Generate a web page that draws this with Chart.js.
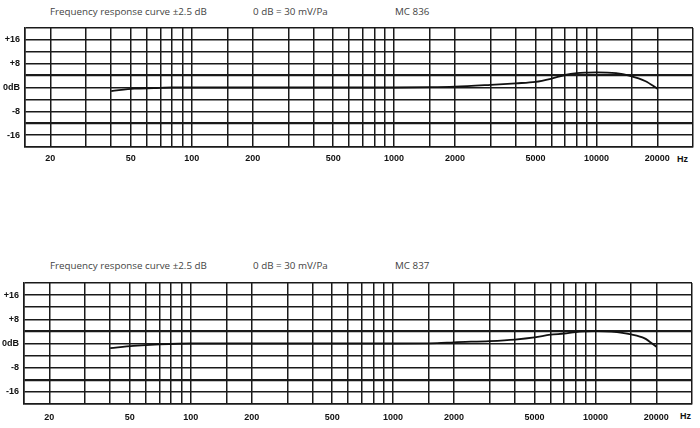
<!DOCTYPE html>
<html>
<head>
<meta charset="utf-8">
<script src="https://cdn.jsdelivr.net/npm/chart.js@4.4.1/dist/chart.umd.min.js"></script>
<style>
  body { margin: 0; background: #fff; }
  #wrap { position: relative; width: 700px; height: 428px; overflow: hidden; }
  .box { position: absolute; left: 0; width: 700px; }
  .txt { position: absolute; font: 9.8px "Open Sans", sans-serif; color: #444; white-space: nowrap; }
  .hz { position: absolute; font: bold 9px "Liberation Sans", sans-serif; color: #111; }
</style>
</head>
<body>
<div id="wrap">
  <span class="txt" style="left:50px;top:5px">Frequency response curve ±2.5 dB</span>
  <span class="txt" style="left:253px;top:5px">0 dB = 30 mV/Pa</span>
  <span class="txt" style="left:395px;top:5px">MC 836</span>
  <span class="hz" style="left:677px;top:154px">Hz</span>
  <div class="box" style="top:0;height:175px"><canvas id="c1" width="700" height="175"></canvas></div>

  <span class="txt" style="left:50px;top:259px">Frequency response curve ±2.5 dB</span>
  <span class="txt" style="left:253px;top:259px">0 dB = 30 mV/Pa</span>
  <span class="txt" style="left:395px;top:259px">MC 837</span>
  <span class="hz" style="left:680px;top:411px">Hz</span>
  <div class="box" style="top:250px;height:178px"><canvas id="c2" width="700" height="178"></canvas></div>
</div>
<script>
// Gitter und Beschriftungen
var gridFreqs = [15, 20, 30, 40, 50, 60, 70, 80, 90, 100, 150, 200, 300, 400, 500, 600, 700, 800, 900,
                 1000, 1500, 2000, 3000, 4000, 5000, 6000, 7000, 8000, 9000, 10000, 15000, 20000, 30000];
var labelFreqs = [20, 50, 100, 200, 500, 1000, 2000, 5000, 10000, 20000];
var dbTicks = [-20, -16, -12, -8, -4, 0, 4, 8, 12, 16, 20];
var dbLabels = { 16: '+16', 8: '+8', 0: '0dB', '-8': '-8', '-16': '-16' };

// MC 836
var freq836 = [40, 52, 65, 80, 100, 200, 500, 1000, 1500, 2000, 3000, 4000, 5000, 6000, 7000, 8000, 9000, 10000, 12500, 14500, 17500, 20000];
var db836   = [-1.2, -0.4, -0.2, 0, 0, 0, 0, 0, 0.1, 0.3, 0.9, 1.4, 1.9, 3.0, 4.2, 4.8, 5.0, 5.1, 4.8, 4.0, 2.1, -0.4];

// MC 837
var freq837 = [40, 52, 70, 100, 200, 500, 1000, 1650, 2000, 3000, 4000, 5000, 6000, 7000, 8000, 9000, 10000, 12000, 15000, 17500, 20000];
var db837   = [-1.5, -0.8, -0.3, 0, 0, 0, 0, 0.1, 0.4, 0.8, 1.3, 2.0, 2.9, 3.3, 3.8, 4.0, 4.1, 3.9, 3.0, 1.7, -1.1];

function makeChart(id, freqs, dbs, padTop, xHeight, labelPad, yWidth) {
  var pts = freqs.map(function (f, i) { return { x: f, y: dbs[i] }; });
  return new Chart(document.getElementById(id), {
    type: 'line',
    data: {
      datasets: [{
        data: pts,
        borderColor: '#111',
        borderWidth: 1.8,
        pointRadius: 0,
        fill: false,
        cubicInterpolationMode: 'monotone'
      }]
    },
    options: {
      responsive: false,
      animation: false,
      layout: { padding: { top: padTop, right: 7, left: 0, bottom: 0 } },
      plugins: { legend: { display: false }, tooltip: { enabled: false } },
      scales: {
        x: {
          type: 'logarithmic',
          min: 15,
          max: 30000,
          afterBuildTicks: function (s) { s.ticks = gridFreqs.map(function (v) { return { value: v }; }); },
          afterFit: function (s) { s.height = xHeight; },
          grid: { color: '#1a1a1a', lineWidth: 1.5, drawTicks: false },
          border: { color: '#1a1a1a', width: 1.5 },
          ticks: {
            autoSkip: false,
            maxRotation: 0,
            padding: labelPad,
            color: '#111',
            font: { family: 'Liberation Sans', size: 9, weight: 'bold' },
            callback: function (v) { return labelFreqs.indexOf(v) >= 0 ? String(v) : ''; }
          }
        },
        y: {
          min: -20,
          max: 20,
          afterBuildTicks: function (s) { s.ticks = dbTicks.map(function (v) { return { value: v }; }); },
          afterFit: function (s) { s.width = yWidth; },
          grid: {
            color: '#1a1a1a',
            drawTicks: false,
            lineWidth: function (c) { var v = c.tick && c.tick.value; return (v === 4 || v === -12) ? 2.3 : 1.4; }
          },
          border: { color: '#1a1a1a', width: 1.5 },
          ticks: {
            autoSkip: false,
            padding: 5,
            color: '#111',
            font: { family: 'Liberation Sans', size: 9, weight: 'bold' },
            callback: function (v) { return dbLabels[v] !== undefined ? dbLabels[v] : ''; }
          }
        }
      }
    }
  });
}

makeChart('c1', freq836, db836, 28, 28, 6, 25);
makeChart('c2', freq837, db837, 33, 24, 8, 24);
</script>
</body>
</html>
